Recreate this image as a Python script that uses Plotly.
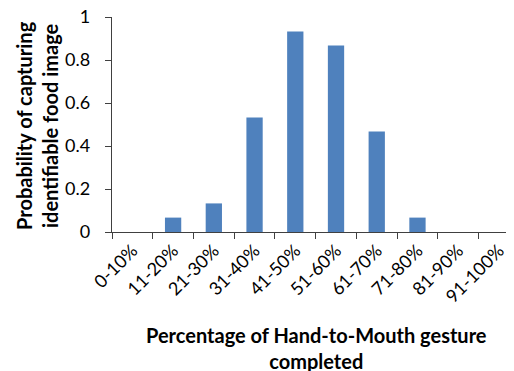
import plotly.graph_objects as go

categories = ["0-10%", "11-20%", "21-30%", "31-40%", "41-50%",
              "51-60%", "61-70%", "71-80%", "81-90%", "91-100%"]
probability = [0, 0.067, 0.133, 0.533, 0.933, 0.867, 0.467, 0.067, 0, 0]
y_ticks = [0, 0.2, 0.4, 0.6, 0.8, 1]
y_tick_labels = ["0", "0.2", "0.4", "0.6", "0.8", "1"]

# The page body keeps an 8px default margin, so the figure is sized to fit
OFF = 8
W, H = 514 - OFF, 371 - OFF
ML, MR, MT, MB = 112 - OFF, 0, 17 - OFF, 139
PW = W - ML - MR
PH = H - MT - MB

FONT = "Lato, Carlito, Calibri, sans-serif"
AXIS_COLOR = "#404040"

fig = go.Figure(go.Bar(
    x=categories,
    y=probability,
    width=0.4,
    marker=dict(color="#4F81BD", line=dict(width=0)),
))

fig.update_layout(
    width=W, height=H,
    margin=dict(l=ML, r=MR, t=MT, b=MB, pad=0, autoexpand=False),
    paper_bgcolor="white", plot_bgcolor="white",
    font=dict(family=FONT, size=18, color="black"),
    showlegend=False,
    bargap=0.6,
)

fig.update_xaxes(
    type="category",
    range=[-0.5, 9.37],
    automargin=False,
    tickson="boundaries",
    ticks="outside", ticklen=6, tickwidth=1.3, tickcolor=AXIS_COLOR,
    showline=True, linecolor=AXIS_COLOR, linewidth=1.3,
    showgrid=False, zeroline=False,
    tickangle=-45,
    ticklabeloverflow="allow",
    tickfont=dict(family=FONT, size=18, color="black"),
)

fig.update_yaxes(
    range=[0, 1],
    automargin=False,
    tickvals=y_ticks, ticktext=y_tick_labels,
    ticks="outside", ticklen=6, tickwidth=1.3, tickcolor=AXIS_COLOR,
    showline=True, linecolor=AXIS_COLOR, linewidth=1.3,
    showgrid=False, zeroline=False,
    ticklabelstandoff=11,
    ticklabeloverflow="allow",
    tickfont=dict(family=FONT, size=18, color="black"),
)

def px_to_paper_x(px):
    # px in window coordinates
    return (px - OFF - ML) / PW

def px_to_paper_y(py):
    return (H - MB - (py - OFF)) / PH

fig.add_annotation(
    text="<b>Probability of capturing<br>identifiable food image</b>",
    textangle=-90,
    xref="paper", yref="paper",
    x=px_to_paper_x(37), y=px_to_paper_y(126),
    xanchor="center", yanchor="middle",
    showarrow=False,
    font=dict(family=FONT, size=20, color="black"),
)

fig.add_annotation(
    text="<b>Percentage of Hand-to-Mouth gesture<br>completed</b>",
    xref="paper", yref="paper",
    x=px_to_paper_x(316), y=px_to_paper_y(348),
    xanchor="center", yanchor="middle",
    showarrow=False,
    font=dict(family=FONT, size=20, color="black"),
)

fig.write_html("out.html")
